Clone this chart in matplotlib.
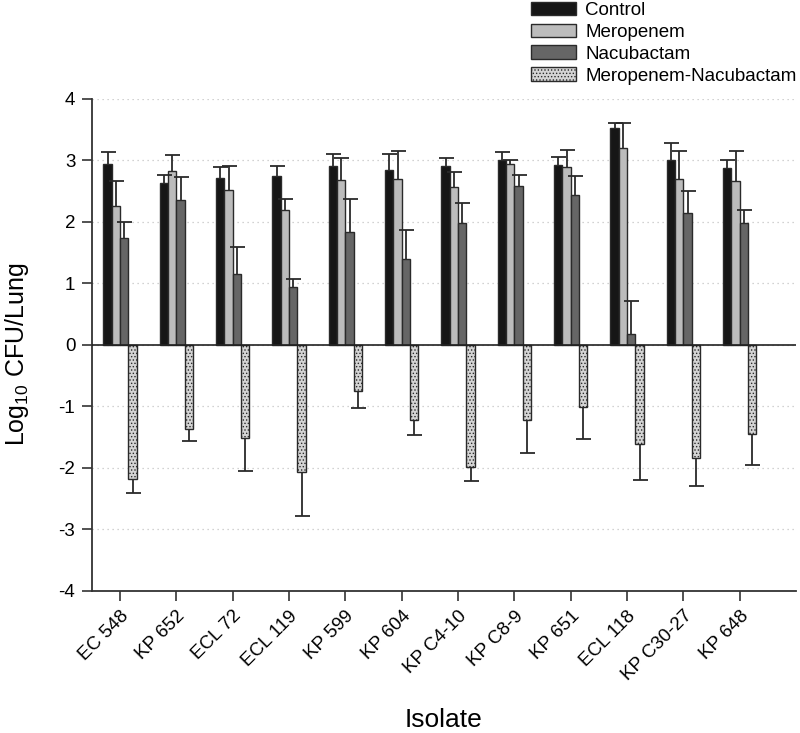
import matplotlib.pyplot as plt
import numpy as np

plt.rcParams['font.family'] = ['Liberation Sans', 'DejaVu Sans']
plt.rcParams['mathtext.fontset'] = 'custom'
plt.rcParams['mathtext.rm'] = 'Liberation Sans'
plt.rcParams['mathtext.default'] = 'regular'
plt.rcParams['axes.unicode_minus'] = False
plt.rcParams['hatch.linewidth'] = 0.6

isolates = ['EC 548', 'KP 652', 'ECL 72', 'ECL 119', 'KP 599', 'KP 604',
            'KP C4-10', 'KP C8-9', 'KP 651', 'ECL 118', 'KP C30-27', 'KP 648']

# means (log10 CFU/lung) and error bar lengths
control = [2.95, 2.64, 2.71, 2.74, 2.91, 2.85, 2.91, 3.01, 2.93, 3.52, 3.00, 2.88]
control_err = [0.19, 0.12, 0.19, 0.17, 0.20, 0.25, 0.13, 0.12, 0.13, 0.09, 0.29, 0.12]

meropenem = [2.26, 2.83, 2.52, 2.20, 2.68, 2.70, 2.57, 2.95, 2.90, 3.21, 2.69, 2.67]
meropenem_err = [0.41, 0.26, 0.39, 0.17, 0.36, 0.45, 0.25, 0.06, 0.27, 0.40, 0.46, 0.48]

nacubactam = [1.74, 2.36, 1.15, 0.94, 1.83, 1.40, 1.99, 2.58, 2.44, 0.17, 2.15, 1.99]
nacubactam_err = [0.26, 0.37, 0.44, 0.13, 0.54, 0.47, 0.32, 0.18, 0.31, 0.55, 0.35, 0.20]

combo = [-2.18, -1.37, -1.51, -2.07, -0.75, -1.22, -1.98, -1.23, -1.01, -1.62, -1.84, -1.45]
combo_err = [0.23, 0.20, 0.54, 0.72, 0.27, 0.24, 0.23, 0.53, 0.52, 0.57, 0.45, 0.51]

series = [
    ('Control', control, control_err, '#161616', None),
    ('Meropenem', meropenem, meropenem_err, '#bcbcbc', None),
    ('Nacubactam', nacubactam, nacubactam_err, '#666666', None),
    ('Meropenem-Nacubactam', combo, combo_err, '#d4d4d4', '.....'),
]

fig = plt.figure(figsize=(8, 7.33), dpi=100)
ax = fig.add_axes([0.115, 0.194, 0.88, 0.671])

x = np.arange(len(isolates))
w = 0.148
for i, (name, vals, errs, color, hatch) in enumerate(series):
    pos = x + (i - 1.5) * w
    vals = np.array(vals)
    errs = np.array(errs)
    neg = vals < 0
    ax.bar(pos, vals, w, color=color, edgecolor='#2a2a2a', linewidth=1.0,
           hatch=hatch, label=name, zorder=3)
    # one-sided bars: away from zero only
    _, caps, _ = ax.errorbar(pos, vals, yerr=[np.where(neg, errs, 0), np.where(neg, 0, errs)],
                             fmt='none', ecolor='#2a2a2a', elinewidth=1.3,
                             capsize=5.4, capthick=1.3, zorder=4)
    # caps come as (lower, upper); drop the one sitting on the bar end
    caps[1 if neg.all() else 0].set_visible(False)

ax.axhline(0, color='#222222', linewidth=1.2, zorder=5)
ax.set_xlim(-0.5, 12.0)
ax.set_ylim(-4, 4)
ax.set_yticks(range(-4, 5))
ax.yaxis.grid(True, linestyle=(0, (1, 3)), color='#c4c4c4', linewidth=0.9, zorder=0)
ax.set_xticks(x)
ax.set_xticklabels(isolates, rotation=45, ha='right', rotation_mode='anchor', fontsize=13.5)
ax.tick_params(axis='y', labelsize=13.5, length=7, width=1.2, color='#333333', pad=5)
ax.tick_params(axis='x', length=7, width=1.2, color='#333333', pad=5)
for s in ['top', 'right']:
    ax.spines[s].set_visible(False)
for s in ['left', 'bottom']:
    ax.spines[s].set_linewidth(1.3)
    ax.spines[s].set_color('#333333')

ax.set_xlabel('Isolate', fontsize=19)
ax.xaxis.set_label_coords(0.499, -0.238)
ax.set_ylabel('Log$_{10}$ CFU/Lung', fontsize=18)
ax.yaxis.set_label_coords(-0.086, 0.48)

fig.legend(loc='upper left', bbox_to_anchor=(0.654, 1.008), frameon=False,
           fontsize=13.5, handlelength=2.4, handleheight=0.75, labelspacing=0.24,
           handletextpad=0.5, borderaxespad=0)

fig.savefig('out.png', dpi=100)
